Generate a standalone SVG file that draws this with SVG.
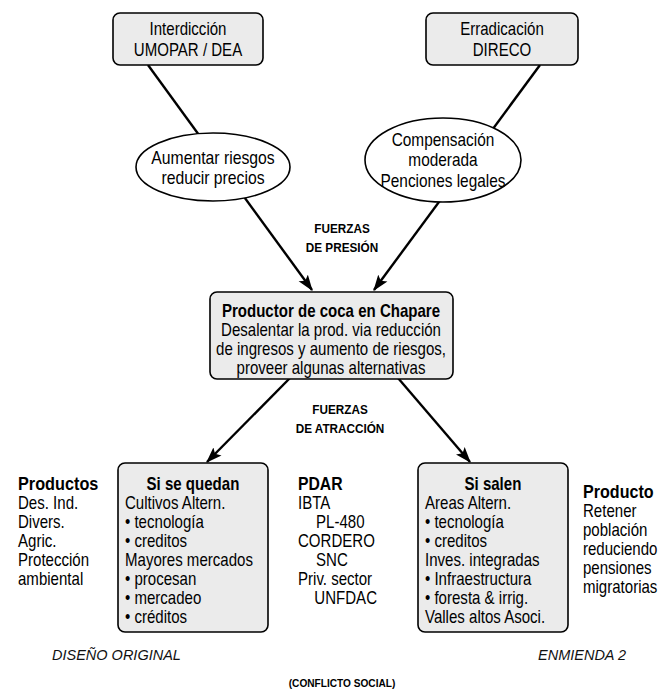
<svg xmlns="http://www.w3.org/2000/svg" width="664" height="689" viewBox="0 0 664 689">
<defs>
<marker id="arr" viewBox="0 0 14 10" refX="13" refY="5" markerWidth="16" markerHeight="12" markerUnits="userSpaceOnUse" orient="auto">
<path d="M0,0 L14,5 L0,10 L3,5 Z" fill="#000"/>
</marker>
<style>
.box{fill:#ebebeb;stroke:#000;stroke-width:1.6}
.ell{fill:#fff;stroke:#000;stroke-width:1.6}
.t{font-family:"Liberation Sans",Arial,sans-serif;font-size:17.5px;fill:#000}
.c{text-anchor:middle}
.b{font-weight:bold}
.h{font-family:"Liberation Sans",Arial,sans-serif;font-size:13.5px;font-weight:bold;text-anchor:middle;fill:#000}
.i{font-family:"Liberation Sans",Arial,sans-serif;font-size:14.5px;font-style:italic;fill:#111}
.ln{stroke:#000;stroke-width:2.4;fill:none}
</style>
</defs>
<rect width="664" height="689" fill="#fff"/>
<g id="connectors">
<line class="ln" x1="148" y1="65" x2="312" y2="290" marker-end="url(#arr)"/>
<line class="ln" x1="540" y1="65" x2="374" y2="290" marker-end="url(#arr)"/>
<line class="ln" x1="290" y1="378" x2="207" y2="462" marker-end="url(#arr)"/>
<line class="ln" x1="398" y1="378" x2="470" y2="462" marker-end="url(#arr)"/>
</g>
<g id="interdiccion">
<rect class="box" x="113" y="13" width="150" height="52" rx="7"/>
<g transform="translate(188,0) scale(0.86,1)">
<text class="t c" x="0" y="35">Interdicción</text>
<text class="t c" x="0" y="56">UMOPAR / DEA</text>
</g>
</g>
<g id="erradicacion">
<rect class="box" x="426" y="13" width="152" height="52" rx="7"/>
<g transform="translate(502,0) scale(0.86,1)">
<text class="t c" x="0" y="35">Erradicación</text>
<text class="t c" x="0" y="56">DIRECO</text>
</g>
</g>
<g id="aumentar">
<ellipse class="ell" cx="213" cy="167" rx="77" ry="34"/>
<g transform="translate(213,0) scale(0.9,1)">
<text class="t c" x="0" y="164">Aumentar riesgos</text>
<text class="t c" x="0" y="184">reducir precios</text>
</g>
</g>
<g id="compensacion">
<ellipse class="ell" cx="443" cy="160" rx="78" ry="42"/>
<g transform="translate(443,0) scale(0.88,1)">
<text class="t c" x="0" y="146">Compensación</text>
<text class="t c" x="0" y="166">moderada</text>
<text class="t c" x="0" y="187">Penciones legales</text>
</g>
</g>
<g id="presion" transform="translate(342,0) scale(0.87,1)">
<text class="h" x="0" y="233">FUERZAS</text>
<text class="h" x="0" y="252">DE PRESIÓN</text>
</g>
<g id="productor">
<rect class="box" x="210" y="292" width="243" height="87" rx="7"/>
<g transform="translate(331,0) scale(0.86,1)">
<text class="t c b" x="0" y="317">Productor de coca en Chapare</text>
<text class="t c" x="0" y="336">Desalentar la prod. via reducción</text>
<text class="t c" x="0" y="355">de ingresos y aumento de riesgos,</text>
<text class="t c" x="0" y="374">proveer algunas alternativas</text>
</g>
</g>
<g id="atraccion" transform="translate(340,0) scale(0.87,1)">
<text class="h" x="0" y="414">FUERZAS</text>
<text class="h" x="0" y="433">DE ATRACCIÓN</text>
</g>
<g id="productos">
<text class="t b" transform="translate(18,490) scale(0.93,1)">Productos</text>
<g transform="translate(18,0) scale(0.86,1)">
<text class="t" x="0" y="509">Des. Ind.</text>
<text class="t" x="0" y="528">Divers.</text>
<text class="t" x="0" y="547">Agric.</text>
<text class="t" x="0" y="566">Protección</text>
<text class="t" x="0" y="585">ambiental</text>
</g>
</g>
<g id="quedan">
<rect class="box" x="118" y="463" width="150" height="169" rx="7"/>
<g transform="translate(125,0) scale(0.86,1)">
<text class="t c b" x="79" y="490">Si se quedan</text>
<text class="t" x="0" y="509">Cultivos Altern.</text>
<text class="t" x="0" y="528">• tecnología</text>
<text class="t" x="0" y="547">• creditos</text>
<text class="t" x="0" y="566">Mayores mercados</text>
<text class="t" x="0" y="585">• procesan</text>
<text class="t" x="0" y="604">• mercadeo</text>
<text class="t" x="0" y="623">• créditos</text>
</g>
</g>
<g id="pdar">
<text class="t b" transform="translate(298,490) scale(0.9,1)">PDAR</text>
<g transform="translate(298,0) scale(0.86,1)">
<text class="t" x="0" y="509">IBTA</text>
<text class="t" x="21" y="528">PL-480</text>
<text class="t" x="0" y="547">CORDERO</text>
<text class="t" x="21" y="566">SNC</text>
<text class="t" x="0" y="585">Priv. sector</text>
<text class="t" x="19" y="604">UNFDAC</text>
</g>
</g>
<g id="salen">
<rect class="box" x="418" y="463" width="150" height="169" rx="7"/>
<g transform="translate(425,0) scale(0.86,1)">
<text class="t c b" x="79" y="490">Si salen</text>
<text class="t" x="0" y="509">Areas Altern.</text>
<text class="t" x="0" y="528">• tecnología</text>
<text class="t" x="0" y="547">• creditos</text>
<text class="t" x="0" y="566">Inves. integradas</text>
<text class="t" x="0" y="585">• Infraestructura</text>
<text class="t" x="0" y="604">• foresta &amp; irrig.</text>
<text class="t" x="0" y="623">Valles altos Asoci.</text>
</g>
</g>
<g id="producto">
<text class="t b" transform="translate(583,498) scale(0.92,1)">Producto</text>
<g transform="translate(583,0) scale(0.86,1)">
<text class="t" x="0" y="517">Retener</text>
<text class="t" x="0" y="536">población</text>
<text class="t" x="0" y="555">reduciendo</text>
<text class="t" x="0" y="574">pensiones</text>
<text class="t" x="0" y="593">migratorias</text>
</g>
</g>
<g id="notes">
<text class="i" x="52" y="660">DISEÑO ORIGINAL</text>
<text class="i" x="538" y="660">ENMIENDA 2</text>
<g transform="translate(342,0) scale(0.88,1)">
<text class="h" x="0" y="687" style="font-size:11.5px">(CONFLICTO SOCIAL)</text>
</g>
</g>
</svg>
